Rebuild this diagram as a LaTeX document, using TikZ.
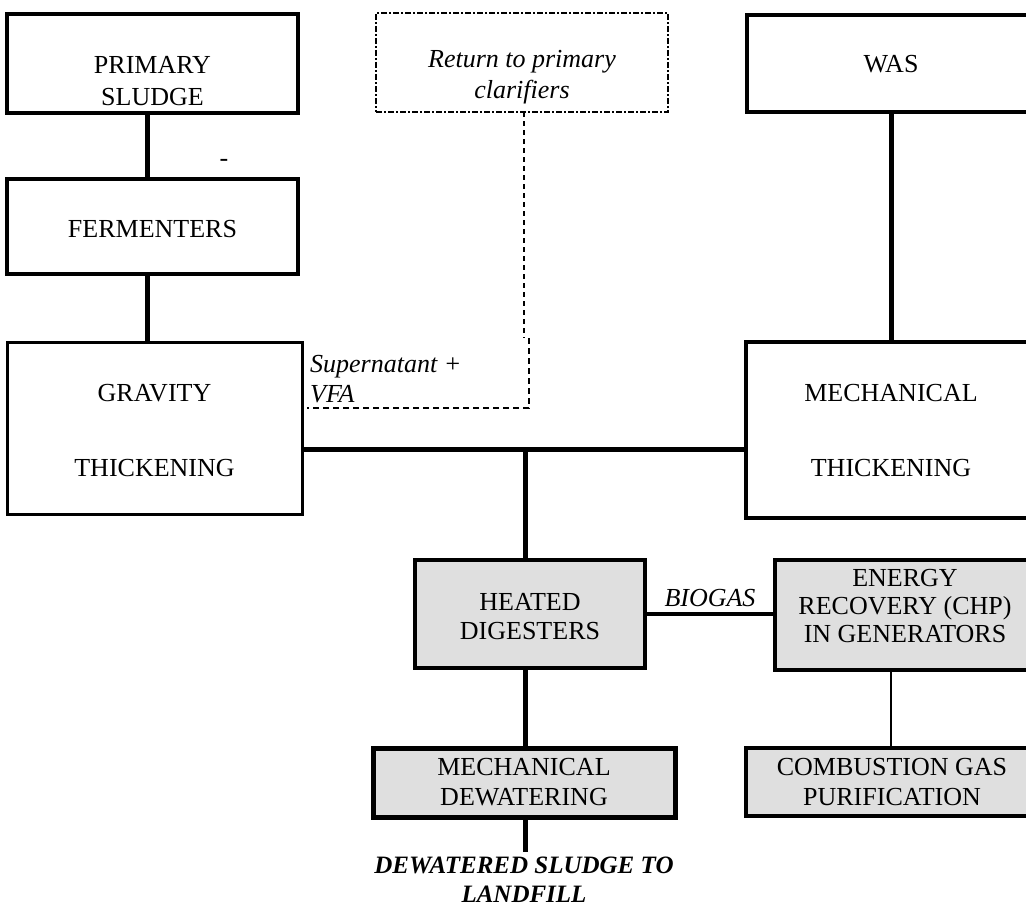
\documentclass[tikz,border=0pt]{standalone}
\usepackage{fontspec}
\setmainfont{Liberation Serif}
\begin{document}
\begin{tikzpicture}[x=1pt,y=-1pt,
  bx/.style={draw=black, rectangle, inner sep=0pt, outer sep=0pt},
  gbx/.style={bx, fill=gray!25},
  txt/.style={inner sep=0pt, align=center, font=\fontsize{26}{#1}\selectfont},
  txt/.default=30,
  itxt/.style={inner sep=0pt, font=\fontsize{26}{#1}\selectfont\itshape},
  itxt/.default=30,
  conn/.style={line width=5pt},
  thin/.style={line width=1.5pt},
  dashdot/.style={line width=1.2pt, dash pattern=on 6pt off 2pt on 2pt off 2pt},
  dotline/.style={line width=1.5pt, dash pattern=on 5pt off 4pt},
  dashline/.style={line width=1.5pt, dash pattern=on 6pt off 4pt}]
\useasboundingbox (0,0) rectangle (1026,910);
\clip (0,0) rectangle (1026,910);

% boxes
\node[bx, line width=4.5pt, minimum width=291pt, minimum height=99pt] (ps) at (152.5,63.5) {};
\node[bx, line width=4.5pt, minimum width=291pt, minimum height=95pt] (fe) at (152.5,226.5) {};
\node[bx, line width=3pt, minimum width=295pt, minimum height=172pt] (gr) at (154.5,428) {};
\node[bx, dashdot, minimum width=292pt, minimum height=99pt] (ret) at (522,62.5) {};
\node[bx, line width=4.5pt, minimum width=293pt, minimum height=97pt] (was) at (893.5,63.5) {};
\node[bx, line width=4.5pt, minimum width=294pt, minimum height=176pt] (mt) at (893,430) {};
\node[gbx, line width=3.5pt, minimum width=230pt, minimum height=108pt] (hd) at (530,614) {};
\node[gbx, line width=3.5pt, minimum width=260pt, minimum height=110pt] (en) at (905,615) {};
\node[gbx, line width=5pt, minimum width=302pt, minimum height=69pt] (md) at (524,782.5) {};
\node[gbx, line width=4pt, minimum width=292pt, minimum height=68pt] (cg) at (892,782) {};

% texts
\node[txt=32] (pst) at (152.5,81) {PRIMARY\\SLUDGE};
\node[txt] (fet) at (152.5,229) {FERMENTERS};
\node[txt=30] (grt) at (154.5,430.5) {GRAVITY\\[45pt]THICKENING};
\node[itxt=31, align=center] (rett) at (522,77) {Return to primary\\clarifiers};
\node[txt] (wast) at (891,64) {WAS};
\node[txt=30] (mtt) at (891,430.5) {MECHANICAL\\[45pt]THICKENING};
\node[txt=29] (hdt) at (530,617) {HEATED\\DIGESTERS};
\node[txt=28] (ent) at (905,606) {ENERGY\\RECOVERY (CHP)\\IN GENERATORS};
\node[txt=30] (mdt) at (524,782) {MECHANICAL\\DEWATERING};
\node[txt=30] (cgt) at (892,782) {COMBUSTION GAS\\PURIFICATION};
\node[itxt=30, align=left, anchor=west] (sup) at (310,379) {Supernatant +\\VFA};
\node[itxt] (bio) at (710,598) {BIOGAS};
\node[txt] (hy) at (224,163) {-};
\node[txt=29, font=\fontsize{25}{29}\selectfont\bfseries\itshape] (lf) at (524,880) {DEWATERED SLUDGE TO\\LANDFILL};

% helper coordinates
\coordinate (xa) at (147,0);
\coordinate (hj) at (525,449);
\coordinate (xw) at (891,0);
\coordinate (by) at (0,614);
\coordinate (lfend) at (525,852);
\coordinate (d1) at (524,338);
\coordinate (d2) at (529,338);
\coordinate (d3) at (529,408);
\coordinate (d4) at (307,408);

% connectors
\draw[conn] (ps.south -| xa) -- (fe.north -| xa);
\draw[conn] (fe.south -| xa) -- (gr.north -| xa);
\draw[conn] (was.south -| xw) -- (mt.north -| xw);
\draw[conn] (gr.east |- hj) -- (mt.west |- hj);
\draw[conn] ([yshift=-3pt]hj) -- (hd.north -| hj);
\draw[conn] (hd.south -| hj) -- (md.north -| hj);
\draw[conn] (md.south -| hj) -- (lfend);
\draw[line width=4pt] (hd.east |- by) -- (en.west |- by);
\draw[thin] (en.south -| xw) -- (cg.north -| xw);
\draw[dotline] (ret.south -| d1) -- (d1);
\draw[dashline] (d2) -- (d3) -- (d4);
\end{tikzpicture}
\end{document}
